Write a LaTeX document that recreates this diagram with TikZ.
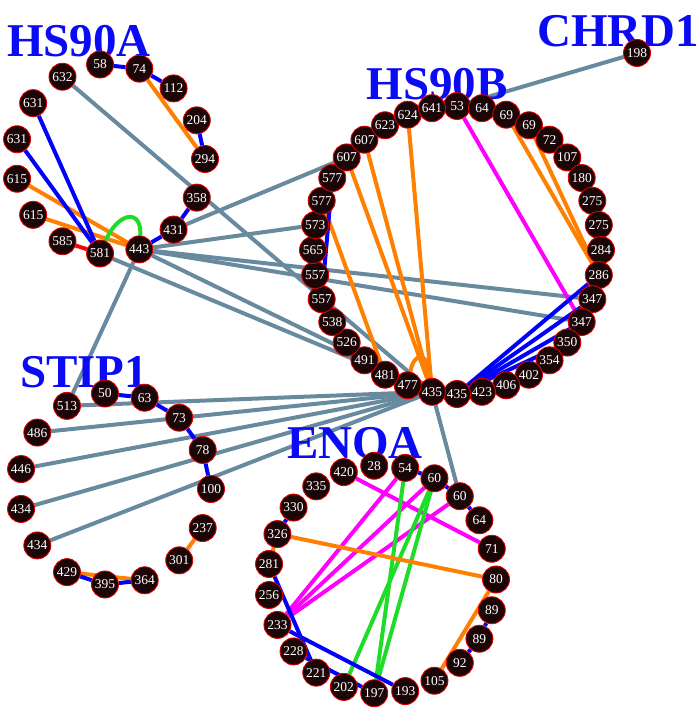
\documentclass[tikz,border=0pt]{standalone}
\usepackage{fontspec}
\setmainfont{Liberation Serif}
\pgfdeclarelayer{edgelayer}
\pgfdeclarelayer{labellayer}
\pgfsetlayers{edgelayer,labellayer,main}
\definecolor{graye}{RGB}{104,138,158}
\definecolor{bluee}{RGB}{0,0,255}
\definecolor{orangee}{RGB}{255,128,0}
\definecolor{magentae}{RGB}{255,0,255}
\definecolor{greene}{RGB}{30,220,40}
\definecolor{rede}{RGB}{255,0,0}
\definecolor{nodefill}{RGB}{26,6,6}
\definecolor{nodeborder}{RGB}{220,0,0}
\definecolor{labelblue}{RGB}{10,10,245}
\tikzset{
  nd/.style={circle, fill=nodefill, draw=nodeborder, line width=0.9pt, minimum size=27pt,
    inner sep=0pt, text=white, font=\fontsize{13.5}{13.5}\selectfont},
  ge/.style={draw=graye, line width=4pt},
  be/.style={draw=bluee, line width=4pt},
  oe/.style={draw=orangee, line width=4pt},
  me/.style={draw=magentae, line width=4pt},
  gre/.style={draw=greene, line width=4pt},
  re/.style={draw=rede, line width=4pt},
  grp/.style={text=labelblue, font=\fontsize{47}{47}\selectfont\bfseries, inner sep=0pt, anchor=base}
}
\begin{document}
\begin{tikzpicture}[x=1pt,y=-1pt]
\useasboundingbox (0,0) rectangle (700,722);
% ---------- nodes ----------
% HS90A ring
\foreach \lab [count=\i from 0] in {58,74,112,204,294,358,431,443,581,585,615,615,631,631,632}
  \node[nd] (a\i) at ({110+95*cos(96-24*\i)},{159-95*sin(96-24*\i)}) {\lab};
% HS90B ring
\foreach \lab [count=\i from 0] in {53,64,69,69,72,107,180,275,275,284,286,347,347,350,354,402,406,423,435,435,477,481,491,526,538,557,557,565,573,577,577,607,607,623,624,641}
  \node[nd] (b\i) at ({457+144*cos(90-10*\i)},{250-144*sin(90-10*\i)}) {\lab};
% STIP1 ring
\foreach \lab [count=\i from 0] in {50,63,73,78,100,237,301,364,395,429,434,434,446,486,513}
  \node[nd] (s\i) at ({115+96*cos(96-24*\i)},{489-96*sin(96-24*\i)}) {\lab};
% ENOA ring
\foreach \lab [count=\i from 0] in {80,71,64,60,60,54,28,420,335,330,326,281,256,233,228,221,202,197,193,105,92,89,89}
  \node[nd] (e\i) at ({382+114*cos(360*\i/23)},{579.5-114*sin(360*\i/23)}) {\lab};
% CHRD1
\node[nd] (c0) at (637,53) {198};
% ---------- labels ----------
\begin{pgfonlayer}{labellayer}
\node[grp] (lA) at (79,57) {HS90A};
\node[grp] (lB) at (437,100) {HS90B};
\node[grp] (lC) at (618,47) {CHRD1};
\node[grp] (lS) at (84,387) {STIP1};
\node[grp] (lE) at (355,458) {ENOA};
\end{pgfonlayer}
% ---------- edges ----------
\begin{pgfonlayer}{edgelayer}
% gray inter-protein
\draw[ge] (a14) -- (b19);
\draw[ge] (a6) -- (b31);
\draw[ge] (a7) -- (b28);
\draw[ge] (a7) -- (b11);
\draw[ge] (a7) -- (b12);
\draw[ge] (a7) -- (b19);
\draw[ge] (a8) -- (b19);
\draw[ge] (a7) -- (s14);
\draw[ge] (s14) -- (b19);
\draw[ge] (s13) -- (b19);
\draw[ge] (s12) -- (b19);
\draw[ge] (s11) -- (b19);
\draw[ge] (s10) -- (b19);
\draw[ge] (b19) -- (e3);
\draw[ge] (b0) -- (c0);
% HS90A internal
\draw[be] (a0) -- (a1);
\draw[be] (a1) -- (a2);
\draw[oe] (a1) -- (a4);
\draw[be] (a3) -- (a4);
\draw[be] (a5) -- (a6);
\draw[be] (a6) -- (a7);
\draw[re] (a8) -- (a9);
\draw[oe] (a10) -- (a7);
\draw[oe] (a11) -- (a7);
\draw[be] (a12) -- (a8);
\draw[be] (a13) -- (a8);
\draw[gre] (a8) .. controls (118,212) and (142,208) .. (a7);
% HS90B internal
\draw[oe] (b34) -- (b19);
\draw[oe] (b32) -- (b19);
\draw[oe] (b31) -- (b19);
\draw[oe] (b29) -- (b21);
\draw[oe] (b20) .. controls (414,352) and (428,350) .. (b19);
\draw[me] (b0) -- (b12);
\draw[oe] (b2) -- (b10);
\draw[oe] (b3) -- (b10);
\draw[be] (b1) -- (b4);
\draw[be] (b30) -- (b25);
\draw[be] (b18) -- (b10);
\draw[be] (b18) -- (b11);
\draw[be] (b18) -- (b12);
\draw[be] (b18) -- (b13);
% STIP1 internal
\draw[be] (s0) -- (s1);
\draw[be] (s1) -- (s2);
\draw[be] (s2) -- (s3);
\draw[be] (s3) -- (s4);
\draw[oe] (s5) -- (s6);
\draw[oe] (s9) -- (s7);
\draw[be] (s9) -- (s8);
\draw[be] (s8) -- (s7);
% ENOA internal
\draw[me] (e7) -- (e1);
\draw[me] (e5) -- (e13);
\draw[me] (e4) -- (e13);
\draw[me] (e3) -- (e13);
\draw[gre] (e5) -- (e17);
\draw[gre] (e4) -- (e17);
\draw[gre] (e4) -- (e16);
\draw[oe] (e10) -- (e0);
\draw[oe] (e0) -- (e19);
\draw[oe] (e10) -- (e11);
\draw[be] (e9) -- (e10);
\draw[be] (e11) -- (e15);
\draw[be] (e13) -- (e18);
\draw[be] (e14) -- (e17);
\draw[be] (e5) -- (e4);
\draw[be] (e4) -- (e3);
\draw[be] (e3) -- (e2);
\draw[be] (e22) -- (e21);
\draw[be] (e21) -- (e20);
\end{pgfonlayer}
\end{tikzpicture}
\end{document}
